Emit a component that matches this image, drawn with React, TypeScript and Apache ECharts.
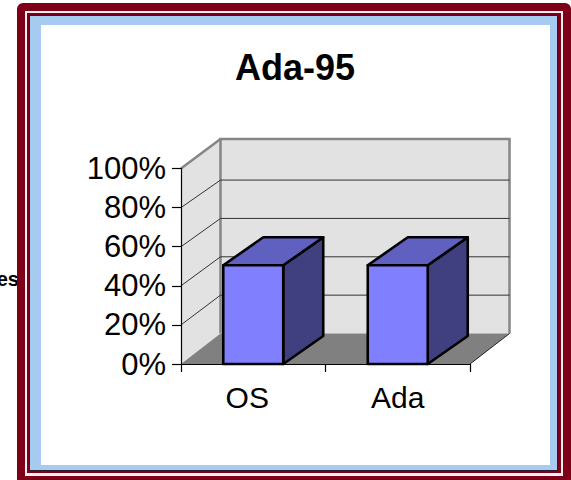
import React, { useEffect, useRef } from "react";
import * as echarts from "echarts";

const TITLE = "Ada-95";
const STRAY_LABEL = "es";
const categories = ["OS", "Ada"];
const seriesValues = [50.5, 50.5];
const tickValues = [20, 40, 60, 80, 100];
const FONT = '"Liberation Sans", Arial, sans-serif';

const DX = 39.5;
const DY = -29.5;
const FLOOR_DY = -30.5;
const GRID_BACK_SCALE = 0.981;
const BAR_DX = 40;
const BAR_DY = -28;

function rect(x0: number, y0: number, x1: number, y1: number, fill: string, r = 0) {
  return {
    type: "rect",
    z: -10,
    silent: true,
    shape: { x: x0, y: y0, width: x1 - x0, height: y1 - y0, r },
    style: { fill },
  };
}

function wallBounds(api: any) {
  const band = api.size([1, 0])[0];
  const left = api.coord([0, 0])[0] - band / 2;
  const right = api.coord([1, 0])[0] + band / 2;
  const bottom = api.coord([0, 0])[1];
  const top = api.coord([0, 100])[1];
  return { left, right, bottom, top };
}

function renderWalls(_: any, api: any) {
  const { left, right, bottom, top } = wallBounds(api);
  const edge = { stroke: "#868686", lineWidth: 2.5, fill: "none" };
  return {
    type: "group",
    children: [
      {
        type: "polygon",
        shape: { points: [[left, bottom], [left, top], [left + DX, top + DY], [left + DX, bottom + FLOOR_DY]] },
        style: { fill: "#e2e2e2" },
      },
      {
        type: "rect",
        shape: { x: left + DX, y: top + DY, width: right - left, height: bottom + FLOOR_DY - (top + DY) },
        style: { fill: "#e2e2e2" },
      },
      {
        type: "polygon",
        shape: {
          points: [[left, bottom], [right, bottom], [right + DX, bottom + FLOOR_DY], [left + DX, bottom + FLOOR_DY]],
        },
        style: { fill: "#808080" },
      },
      {
        type: "polyline",
        shape: {
          points: [
            [left + DX, bottom + FLOOR_DY],
            [left + DX, top + DY],
            [right + DX, top + DY],
            [right + DX, bottom + FLOOR_DY],
          ],
        },
        style: edge,
      },
      {
        type: "line",
        shape: { x1: left, y1: top, x2: left + DX, y2: top + DY },
        style: edge,
      },
      {
        type: "line",
        shape: { x1: right, y1: bottom, x2: right + DX, y2: bottom + FLOOR_DY },
        style: { stroke: "#222", lineWidth: 1 },
      },
    ],
  };
}

function renderGrid(_: any, api: any) {
  const { left, right, bottom } = wallBounds(api);
  const y = api.coord([0, api.value(1)])[1];
  const style = { stroke: "#333", lineWidth: 1, fill: "none" };
  if (api.value(1) === 100) {
    return { type: "group", children: [] };
  }
  const backY = bottom + FLOOR_DY - (bottom - y) * GRID_BACK_SCALE;
  return {
    type: "polyline",
    shape: { points: [[left, y], [left + DX, backY], [right + DX, backY]] },
    style,
  };
}

function renderBar(_: any, api: any) {
  const c = api.value(0);
  const [cx, yTop] = api.coord([c, api.value(1)]);
  const yBase = api.coord([c, 0])[1];
  const w = api.size([1, 0])[0] * 0.415;
  const x0 = cx - w / 2;
  const x1 = cx + w / 2;
  const line = { stroke: "#000", lineWidth: 2.6, lineJoin: "round" };
  return {
    type: "group",
    children: [
      {
        type: "polygon",
        shape: {
          points: [[x1, yTop], [x1 + BAR_DX, yTop + BAR_DY], [x1 + BAR_DX, yBase + BAR_DY], [x1, yBase]],
        },
        style: { fill: "#404080", ...line },
      },
      {
        type: "polygon",
        shape: {
          points: [[x0, yTop], [x0 + BAR_DX, yTop + BAR_DY], [x1 + BAR_DX, yTop + BAR_DY], [x1, yTop]],
        },
        style: { fill: "#6060c0", ...line },
      },
      {
        type: "rect",
        shape: { x: x0, y: yTop, width: w, height: yBase - yTop },
        style: { fill: "#8080ff", ...line },
      },
    ],
  };
}

export default function App() {
  const ref = useRef<HTMLDivElement>(null);
  useEffect(() => {
    const chart = echarts.init(ref.current!, null, { renderer: "svg" });
    chart.setOption({
      animation: false,
      backgroundColor: "#fff",
      title: {
        text: TITLE,
        left: 235,
        top: 49,
        textStyle: { fontFamily: FONT, fontWeight: "bold", fontSize: 36, color: "#000" },
        padding: 0,
      },
      grid: { left: 181, top: 168.5, width: 289, height: 195.5 },
      xAxis: {
        type: "category",
        data: categories.map((value, i) => ({
          value,
          textStyle: i === 0 ? { padding: [0, 12, 0, 0] } : {},
        })),
        z: 4,
        axisLine: { show: true, lineStyle: { color: "#000", width: 1.2 } },
        axisTick: { show: true, alignWithLabel: false, length: 8, lineStyle: { color: "#000", width: 1.2 } },
        axisLabel: { fontFamily: FONT, fontSize: 30, color: "#000", margin: 18 },
        splitLine: { show: false },
      },
      yAxis: {
        type: "value",
        min: 0,
        max: 100,
        interval: 20,
        z: 4,
        axisLine: { show: true, lineStyle: { color: "#000", width: 1.2 } },
        axisTick: { show: true, length: 9, lineStyle: { color: "#000", width: 1.2 } },
        axisLabel: {
          fontFamily: FONT,
          fontSize: 31,
          color: "#000",
          margin: 15,
          padding: [0, 0, 5, 0],
          formatter: "{value}%",
        },
        splitLine: { show: false },
      },
      series: [
        {
          type: "custom",
          z: 1,
          clip: false,
          silent: true,
          renderItem: renderWalls,
          data: [[0, 0]],
          encode: { x: 0, y: 1 },
        },
        {
          type: "custom",
          z: 2,
          clip: false,
          silent: true,
          renderItem: renderGrid,
          data: tickValues.map((v) => [0, v]),
          encode: { x: 0, y: 1 },
        },
        {
          type: "custom",
          z: 5,
          clip: false,
          silent: true,
          renderItem: renderBar,
          data: seriesValues.map((v, i) => [i, v]),
          encode: { x: 0, y: 1 },
        },
      ],
      graphic: {
        elements: [
          {
            type: "text",
            z: -10,
            silent: true,
            x: 19,
            y: 279,
            style: {
              text: STRAY_LABEL,
              fontFamily: FONT,
              fontWeight: "bold",
              fontSize: 20,
              fill: "#000",
              textAlign: "right",
              textVerticalAlign: "middle",
            },
          },
          rect(17, 3, 571, 486, "#7d0018", 6),
          rect(25, 11, 563, 476, "#f6eef0"),
          rect(27, 13, 561, 473, "#7d0018"),
          rect(29, 15, 558, 471, "#2a1a2a"),
          rect(30, 16, 557, 470, "#a6caf0"),
          rect(41, 25, 550, 465, "#ffffff"),
        ],
      },
    });
    return () => chart.dispose();
  }, []);
  return (
    <div
      ref={ref}
      style={{ position: "fixed", left: 0, top: 0, width: 571, height: 480 }}
    />
  );
}
